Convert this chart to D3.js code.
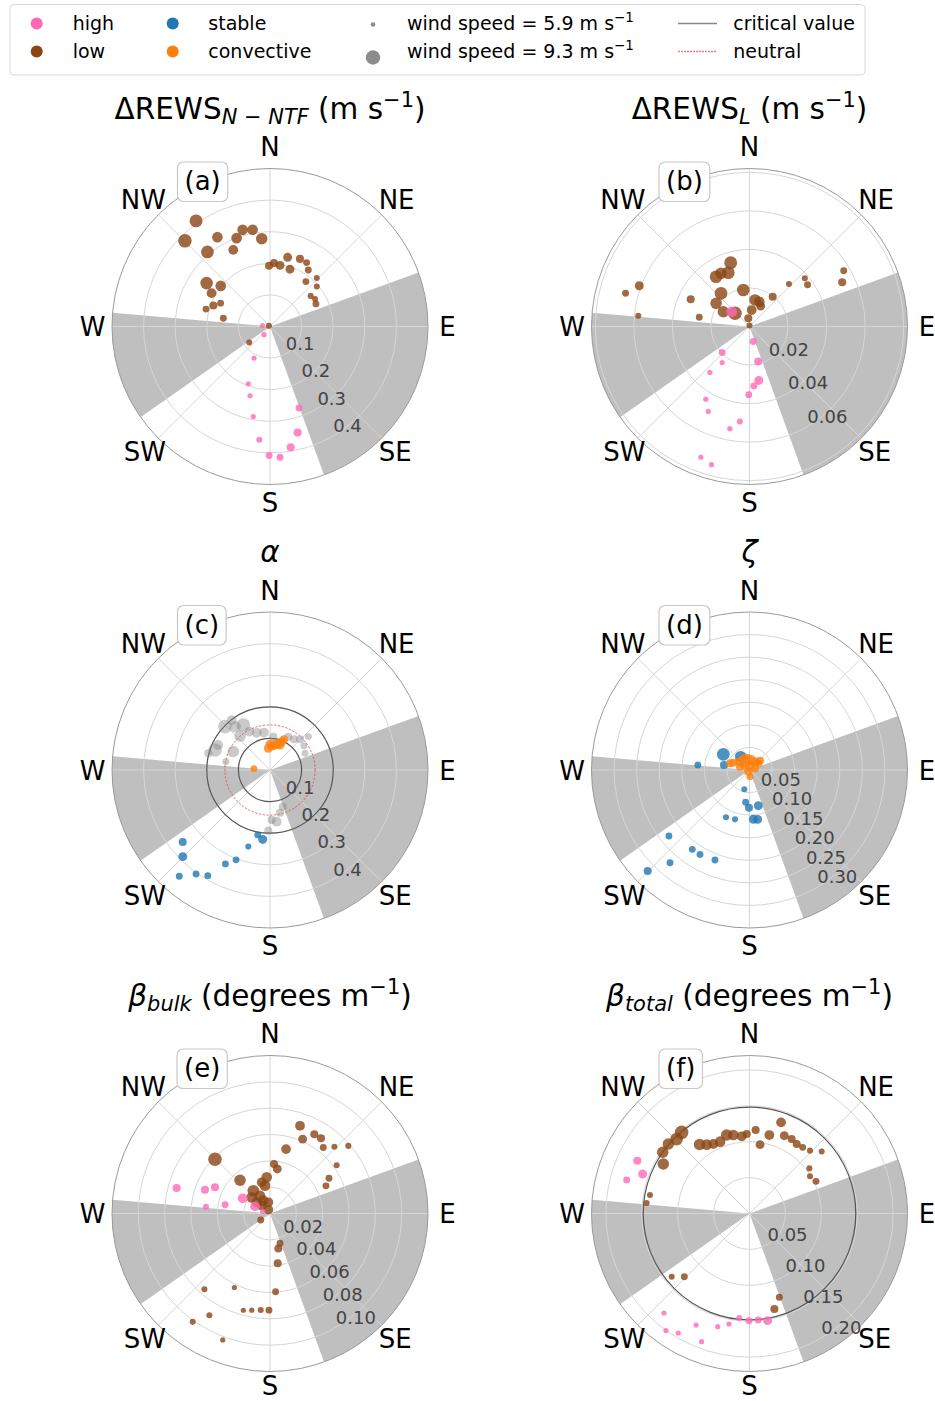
<!DOCTYPE html>
<html><head><meta charset="utf-8">
<script src="https://cdn.jsdelivr.net/npm/d3@7"></script>
<style>body{margin:0;background:#fff}svg{display:block;font-family:"DejaVu Sans",sans-serif}</style>
</head><body><svg id="chart" width="935" height="1401"></svg>
<script>
// ---- data: [wind direction (deg), value, wind speed (m/s)] ----
const aLow = [[325.0,0.408,8.8],[315.2,0.382,9.0],[329.5,0.328,8.0],[320.0,0.308,8.7],[334.4,0.269,7.7],[339.3,0.299,8.0],[344.2,0.318,8.0],[349.8,0.311,8.0],[354.6,0.279,8.3],[304.4,0.243,8.7],[309.5,0.202,8.0],[299.7,0.213,7.7],[290.3,0.191,7.1],[285.2,0.210,6.7],[295.3,0.173,6.7],[280.1,0.150,6.7],[359.1,0.192,7.1],[3.6,0.201,7.1],[9.3,0.196,7.4],[14.3,0.226,7.4],[19.2,0.192,7.4],[23.9,0.234,7.1],[29.8,0.233,6.7],[34.1,0.216,6.7],[44.0,0.213,6.4],[38.7,0.182,6.7],[49.4,0.195,6.4],[53.0,0.161,6.4],[58.7,0.167,6.4],[63.8,0.162,6.7],[300,0.004,6.4],[232.3,0.083,6.4]];
const aHigh = [[277,0.024,6.1],[215.8,0.032,6.1],[206.8,0.112,6.1],[200.7,0.194,6.1],[196.1,0.228,6.1],[190.5,0.290,6.1],[185.4,0.360,6.4],[180.4,0.408,6.7],[175.6,0.415,6.7],[170.3,0.388,7.1],[165.4,0.347,7.1],[160.4,0.274,6.7]];

const bLow = [[343.6,0.0345,8.8],[326.1,0.0311,8.7],[331.8,0.0313,8.3],[338.5,0.030,8.7],[319.4,0.0227,8.7],[304.7,0.0211,8.3],[299.5,0.0156,8.3],[312.3,0.0102,9.0],[350.4,0.0192,8.7],[11.7,0.0141,8.3],[21.6,0.0138,8.0],[7.6,0.0086,7.7],[28.6,0.0121,7.4],[351.7,0.0043,7.1],[0,0.0005,6.4],[37.9,0.0196,7.1],[294.8,0.0336,7.1],[280.4,0.0265,6.7],[42.9,0.0301,6.4],[48.9,0.0381,6.4],[54.3,0.0371,6.7],[59.4,0.0568,6.7],[64.5,0.0533,7.1],[290.3,0.061,7.4],[285,0.0666,6.7],[275.5,0.058,6.4]];
const bHigh = [[309.7,0.012,8.0],[166.1,0.008,6.7],[166,0.0187,7.1],[170.2,0.0284,7.4],[175.8,0.0309,6.7],[180.6,0.0354,6.7],[226.4,0.0196,6.7],[217.2,0.0235,6.1],[220.8,0.0315,6.1],[211,0.044,6.1],[205.9,0.049,6.1],[185.8,0.0496,6.4],[190.9,0.054,6.1],[200.4,0.0724,6.1],[195.4,0.0744,6.1]];

const cOther = [[313.9,0.198,9.0],[321.1,0.176,8.3],[329.3,0.166,9.0],[318.6,0.143,8.3],[331.7,0.138,7.7],[340.3,0.125,7.7],[350.9,0.120,7.7],[290.0,0.185,9.0],[296.6,0.130,8.3],[285.1,0.202,7.1],[280.7,0.142,6.7],[28.8,0.120,7.1],[38.0,0.123,7.1],[44.4,0.136,7.1],[49.0,0.161,6.7],[54.4,0.132,6.7],[64.5,0.123,6.7],[160.9,0.123,7.1],[166.8,0.139,7.1],[172.6,0.165,7.7],[178.1,0.158,7.1],[181.6,0.192,7.1],[322.5,0.199,7.7],[295.8,0.182,7.7],[5.7,0.106,7.1]];
const cStable = [[190.7,0.209,6.7],[186,0.221,7.4],[195.8,0.252,6.4],[200.7,0.304,6.7],[205.4,0.329,6.7],[210.5,0.388,6.7],[215.4,0.404,6.7],[220.5,0.442,6.7],[225.2,0.389,7.4],[230.5,0.358,7.1]];
const cConvective = [[274.8,0.051,6.7],[355.6,0.069,7.4],[4.0,0.076,7.4],[11.3,0.081,7.7],[17.4,0.088,7.4],[22.4,0.097,7.4],[24.5,0.107,7.1],[0,0.082,7.4],[21.8,0.085,7.4]];
const cCritical = [0.1, 0.2];
const cNeutral = 1/7;

const dStable = [[300.9,0.0676,8.7],[326.5,0.0354,8.3],[281.1,0.0576,7.1],[275.5,0.115,6.7],[195,0.0443,6.4],[186.8,0.0721,6.7],[180.8,0.0835,7.1],[166.1,0.0814,7.4],[175.6,0.1096,7.4],[170.6,0.1108,7.4],[196.4,0.114,6.4],[206.4,0.117,6.4],[201,0.2136,6.7],[210.4,0.2167,6.7],[215.8,0.2167,6.7],[220.6,0.2705,6.7],[230.7,0.2306,6.7],[225.2,0.3178,7.1]];
const dConvective = [[294.4,0.0393,7.1],[309.3,0.0291,7.4],[330,0.0273,7.7],[349.5,0.0263,7.4],[8.5,0.0224,7.7],[33.4,0.0221,7.4],[53,0.0245,7.1],[318,0.0149,7.7],[7.1,0.0089,7.7],[289.3,0.0223,7.1],[73.1,0.0127,7.1],[215,0.0045,7.1],[175.7,0.0148,6.7],[48.4,0.0311,7.1],[288.9,0.0457,7.1]];

const eLow = [[18.9,0.0704,7.7],[23.7,0.0617,7.4],[29.2,0.069,7.1],[34.1,0.0691,7.1],[38.9,0.0644,6.7],[44,0.0704,6.4],[49.2,0.0786,6.4],[54.1,0.0625,6.4],[59.1,0.0522,6.7],[63.7,0.0474,6.7],[14,0.0504,7.7],[4.6,0.0377,7.1],[9.3,0.0343,7.4],[314.6,0.0587,9.0],[318,0.034,8.3],[354.8,0.0276,8.0],[349.8,0.0215,8.0],[345.1,0.0245,7.7],[323.8,0.0215,8.3],[311.5,0.0185,8.0],[330.7,0.0155,8.0],[332.4,0.011,8.0],[351.4,0.0086,7.7],[310,0.0132,7.7],[313.2,0.0087,7.7],[336,0.0032,7.7],[235,0.0086,6.7],[161.4,0.0238,6.7],[166.6,0.0273,7.1],[171.2,0.0382,7.1],[175.9,0.0596,6.7],[180.6,0.0734,6.7],[185.5,0.0737,6.4],[190.7,0.0747,6.1],[195.4,0.0762,6.1],[205.7,0.0624,6.1],[220.9,0.0761,6.4],[210.8,0.0899,6.4],[215.5,0.1011,6.4],[200.5,0.1025,6.1]];
const eHigh = [[285.3,0.0735,7.1],[290.1,0.0526,7.1],[295.5,0.0463,7.1],[281.1,0.0348,6.7],[276.1,0.0489,6.4],[299.1,0.0237,7.7],[295.6,0.0126,7.7],[286.7,0.0058,6.1]];

const fLow = [[320.1,0.1473,9.0],[315.6,0.145,8.7],[310.6,0.1488,8.3],[305.2,0.1479,8.3],[299.9,0.1384,8.3],[324.1,0.1186,8.3],[328.1,0.1129,8.0],[332.5,0.1091,7.7],[337.7,0.1081,8.0],[343.8,0.1138,8.3],[348.4,0.1116,8.0],[354.2,0.108,7.7],[358,0.1108,7.1],[4.2,0.1166,7.1],[8.7,0.097,7.4],[14.2,0.1127,7.7],[19.1,0.1343,7.7],[24.1,0.1187,7.4],[29.5,0.1192,7.1],[34.2,0.117,7.1],[38.8,0.1182,6.7],[43.9,0.1215,6.4],[49.3,0.1326,6.4],[53,0.1044,6.4],[58.4,0.0989,6.4],[64.2,0.1029,6.7],[280.5,0.1409,6.4],[275.8,0.1439,6.4],[230.9,0.1396,6.4],[225.9,0.1264,6.7],[160.4,0.1239,6.7],[165.4,0.1374,7.1]];
const fHigh = [[295.2,0.1727,7.1],[290.3,0.1586,7.4],[285.3,0.1773,6.7],[170.4,0.1513,7.4],[175.3,0.1488,6.7],[180.3,0.1492,6.7],[185.6,0.1462,6.4],[190.5,0.1565,6.1],[195.7,0.1637,6.1],[205.6,0.1722,6.1],[200.5,0.1905,6.1],[210.8,0.1937,6.1],[215.5,0.2003,6.1],[220.7,0.1827,6.1]];
const fCritical = [0.148];

const compass = ['N','NE','E','SE','S','SW','W','NW'];
const excludedSectors = [[70,160],[235,275]];
const windLegend = [5.9, 9.3];

// ---- drawing ----
const svg = d3.select('#chart');
svg.append('rect').attr('width',935).attr('height',1401).attr('fill','#fff');
const R = 158;
const color = {high:'#ff69b4', low:'#8b4513', stable:'#1f77b4', convective:'#ff7f0e', other:'#808080'};
const size = d3.scaleLinear().domain([5.9,9.3]).range([2.3,7.2]);
const rad = d => d*Math.PI/180;
const labelDist = [180, 179, 177.5, 177, 175.5, 177, 177.5, 179];

function richText(sel, x, y, fs, segs, anchor) {
  const t = sel.append('text').attr('x',x).attr('y',y).attr('font-size',fs).attr('text-anchor',anchor||'middle').attr('fill','#000');
  let cur = 0;
  segs.forEach(s => {
    const target = s.sub ? 0.2*fs : s.sup ? -0.4*fs : 0;
    const ts = t.append('tspan').text(s.t).attr('dy', target-cur);
    cur = target;
    if (s.sub || s.sup) ts.attr('font-size', fs*0.71);
    if (s.it) ts.attr('font-style','italic');
  });
  return t;
}

function panel(p) {
  const g = svg.append('g').attr('transform',`translate(${p.cx},${p.cy})`);
  const r = d3.scaleLinear().domain([0,p.rmax]).range([0,R]);
  const pt = (a,v) => d3.pointRadial(rad(a), r(v));
  const arc = d3.arc().innerRadius(0).outerRadius(R);
  g.selectAll(null).data(excludedSectors).join('path')
    .attr('d', d => arc({startAngle:rad(d[0]), endAngle:rad(d[1])})).attr('fill','#bfbfbf');
  g.selectAll(null).data(p.rings).join('circle').attr('r', d=>r(d))
    .attr('fill','none').attr('stroke','#d6d6d6').attr('stroke-width',1);
  g.selectAll(null).data(d3.range(0,360,45)).join('line')
    .attr('x1',0).attr('y1',0)
    .attr('x2', d=>d3.pointRadial(rad(d),R)[0]).attr('y2', d=>d3.pointRadial(rad(d),R)[1])
    .attr('stroke','#d6d6d6').attr('stroke-width',1);
  g.append('circle').attr('r',R).attr('fill','none').attr('stroke','#9a9a9a').attr('stroke-width',1);
  (p.critical||[]).forEach(c => g.append('circle').attr('r',r(c)).attr('fill','none').attr('stroke','#555').attr('stroke-width',1.2));
  if (p.neutral) g.append('circle').attr('r',r(p.neutral)).attr('fill','none').attr('stroke','#e8494b').attr('stroke-width',1).attr('stroke-dasharray','2.2,1.6').attr('opacity',0.85);
  p.series.forEach(s => {
    g.selectAll(null).data(s.data).join('circle')
      .attr('cx', d=>pt(d[0],d[1])[0]).attr('cy', d=>pt(d[0],d[1])[1])
      .attr('r', d=>size(d[2])).attr('fill', color[s.cls])
      .attr('fill-opacity', s.cls==='other'?0.42:0.8);
  });
  g.selectAll(null).data(p.labels).join('text')
    .attr('x', d=>pt(150,d)[0]).attr('y', d=>pt(150,d)[1]-3.8)
    .attr('font-size',18).attr('fill','#444').text(d=>p.fmt(d));
  const dist = labelDist.map((v,i) => i===4 ? v-(p.sLift||0) : v);
  g.selectAll(null).data(compass).join('text')
    .attr('x',(d,i)=>d3.pointRadial(rad(i*45),dist[i])[0])
    .attr('y',(d,i)=>d3.pointRadial(rad(i*45),dist[i])[1]+9.5)
    .attr('text-anchor','middle').attr('font-size',26).attr('fill','#000').text(d=>d);
  // panel letter box
  const lb = g.append('g');
  const lt = lb.append('text').attr('x',p.boxX+7).attr('y',-144.5+8.2).attr('font-size',26).text(p.letter);
  const w = lt.node().getComputedTextLength();
  lb.insert('rect','text').attr('x',p.boxX).attr('y',-164.5).attr('width',w+14).attr('height',39.5)
    .attr('rx',6).attr('fill','#fff').attr('stroke','#c8c8c8').attr('stroke-width',1.2);
  richText(g, 0, -208, 29.5, p.title);
}

const L = 270, Rx = 749.5, rows = [326.5, 770, 1213.5];
const f1 = d3.format('.1f'), f2 = d3.format('.2f');
panel({cx:L, cy:rows[0], rmax:0.5, rings:[0.1,0.2,0.3,0.4], labels:[0.1,0.2,0.3,0.4], fmt:f1, letter:'(a)', boxX:-92.5,
  title:[{t:'\u0394REWS'},{t:'N \u2212 NTF',sub:1,it:1},{t:' (m s'},{t:'\u22121',sup:1},{t:')'}],
  series:[{cls:'low',data:aLow},{cls:'high',data:aHigh}]});
panel({cx:Rx, cy:rows[0], rmax:0.082, rings:[0.02,0.04,0.06,0.08], labels:[0.02,0.04,0.06], fmt:f2, letter:'(b)', boxX:-90.5,
  title:[{t:'\u0394REWS'},{t:'L',sub:1,it:1},{t:' (m s'},{t:'\u22121',sup:1},{t:')'}],
  series:[{cls:'low',data:bLow},{cls:'high',data:bHigh}]});
panel({cx:L, cy:rows[1], rmax:0.5, rings:[0.1,0.2,0.3,0.4], labels:[0.1,0.2,0.3,0.4], fmt:f1, letter:'(c)', boxX:-92.5,
  critical:cCritical, neutral:cNeutral,
  title:[{t:'\u03b1',it:1}],
  series:[{cls:'other',data:cOther},{cls:'stable',data:cStable},{cls:'convective',data:cConvective}]});
panel({cx:Rx, cy:rows[1], rmax:0.35, rings:[0.05,0.1,0.15,0.2,0.25,0.3], labels:[0.05,0.1,0.15,0.2,0.25,0.3], fmt:f2, letter:'(d)', boxX:-90.5,
  title:[{t:'\u03b6',it:1}],
  series:[{cls:'stable',data:dStable},{cls:'convective',data:dConvective}]});
panel({cx:L, cy:rows[2], rmax:0.12, rings:[0.02,0.04,0.06,0.08,0.1], labels:[0.02,0.04,0.06,0.08,0.1], fmt:f2, letter:'(e)', boxX:-93, sLift:4,
  title:[{t:'\u03b2',it:1},{t:'bulk',sub:1,it:1},{t:' (degrees m'},{t:'\u22121',sup:1},{t:')'}],
  series:[{cls:'low',data:eLow},{cls:'high',data:eHigh}]});
panel({cx:Rx, cy:rows[2], rmax:0.22, rings:[0.05,0.1,0.15,0.2], labels:[0.05,0.1,0.15,0.2], fmt:f2, letter:'(f)', boxX:-90.5, sLift:4,
  critical:fCritical,
  title:[{t:'\u03b2',it:1},{t:'total',sub:1,it:1},{t:' (degrees m'},{t:'\u22121',sup:1},{t:')'}],
  series:[{cls:'low',data:fLow},{cls:'high',data:fHigh}]});

// ---- legend ----
const lg = svg.append('g');
lg.append('rect').attr('x',10).attr('y',4.5).attr('width',855).attr('height',70.5).attr('rx',4)
  .attr('fill','#fff').attr('stroke','#d9d9d9').attr('stroke-width',1);
const rowY = [23.5, 51.5], baseY = [29.5, 57.5];
[['high','low',36.7,72.7],['stable','convective',172.7,208.3]].forEach(c => {
  [c[0],c[1]].forEach((k,i) => {
    lg.append('circle').attr('cx',c[2]).attr('cy',rowY[i]).attr('r',6).attr('fill',color[k]);
    lg.append('text').attr('x',c[3]).attr('y',baseY[i]).attr('font-size',19).text(k);
  });
});
windLegend.forEach((ws,i) => {
  lg.append('circle').attr('cx',373).attr('cy',i?57.5:24.5).attr('r',size(ws)).attr('fill','#808080').attr('fill-opacity',0.9);
  richText(lg, 407, baseY[i], 19, [{t:`wind speed = ${ws.toFixed(1)} m s`},{t:'\u22121',sup:1}], 'start');
});
lg.append('line').attr('x1',678).attr('x2',717).attr('y1',rowY[0]).attr('y2',rowY[0]).attr('stroke','#888').attr('stroke-width',1.3);
lg.append('line').attr('x1',678).attr('x2',717).attr('y1',rowY[1]).attr('y2',rowY[1]).attr('stroke','#f08080').attr('stroke-width',1.6).attr('stroke-dasharray','2,1');
lg.append('text').attr('x',733.3).attr('y',baseY[0]).attr('font-size',19).text('critical value');
lg.append('text').attr('x',733.3).attr('y',baseY[1]).attr('font-size',19).text('neutral');
</script></body></html>
